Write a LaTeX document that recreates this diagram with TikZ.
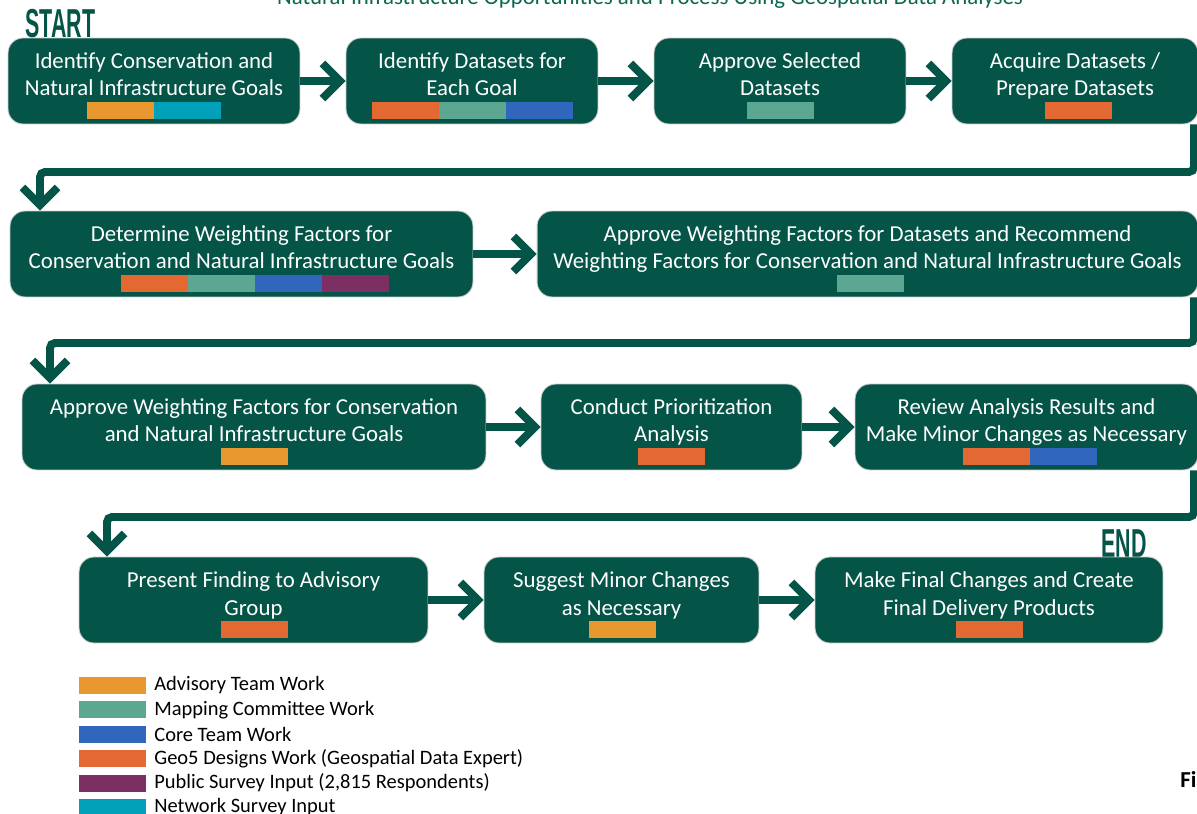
\documentclass[tikz,border=0pt]{standalone}
\usepackage{graphicx}
\usepackage{fontspec}
\setmainfont{Carlito}
\newfontfamily\headfont{Liberation Sans}
\usetikzlibrary{arrows.meta,calc}

\definecolor{boxgreen}{HTML}{045448}
\definecolor{titlegreen}{HTML}{0B6650}
\definecolor{advteam}{HTML}{E8982F}
\definecolor{mapping}{HTML}{5CA792}
\definecolor{coreteam}{HTML}{3166BD}
\definecolor{geo}{HTML}{E46832}
\definecolor{public}{HTML}{7C2F63}
\definecolor{network}{HTML}{00A0B8}

\tikzset{
  stepbox/.style={fill=boxgreen, draw=black!20, line width=0.5pt, rounded corners=0.3cm,
    minimum height=1.72cm, inner sep=0pt, text=white, align=center,
    font=\fontsize{13}{15.4}\selectfont, text height=0.8cm, text depth=0.2cm},
  flow/.style={draw=boxgreen, line width=4.5pt, -{Straight Barb[length=10pt,width=20pt]}},
  turn/.style={flow, rounded corners=0.1cm},
  tag/.style={font=\headfont\bfseries\fontsize{23}{23}\selectfont, text=boxgreen, inner sep=0pt},
  keytext/.style={font=\fontsize{11.65}{13}\selectfont, inner sep=0pt}
}

\newcommand\workbar[4]{%
  \foreach \c [count=\i] in {#4}
    \fill[\c] ($(#1.center)+({#2+(\i-1-#3/2)*67},21)$) rectangle ++(67,17);
}

\begin{document}
\begin{tikzpicture}[x=0.02cm, y=-0.02cm]
\useasboundingbox (0,0) rectangle (1197,814);

\node[font=\fontsize{13}{15}\selectfont, text=titlegreen, anchor=base] (title) at (650,5)
  {Natural Infrastructure Opportunities and Process Using Geospatial Data Analyses};
\node[tag, anchor=base west] (start) at (25,38) {\scalebox{0.53}[1]{START}};
\node[tag, anchor=base west] (end) at (1101,557) {\scalebox{0.53}[1]{END}};

\node[stepbox, minimum width=5.84cm] (s1) at (154,81) {Identify Conservation and\\Natural Infrastructure Goals};
\node[stepbox, minimum width=5.04cm] (s2) at (472,81) {Identify Datasets for\\Each Goal};
\node[stepbox, minimum width=5.04cm] (s3) at (780,81) {Approve Selected\\Datasets};
\node[stepbox, minimum width=4.92cm] (s4) at (1075,81) {Acquire Datasets /\\Prepare Datasets};

\node[stepbox, minimum width=9.26cm] (s5) at (241.5,254) {Determine Weighting Factors for\\Conservation and Natural Infrastructure Goals};
\node[stepbox, minimum width=13.22cm] (s6) at (867.5,254) {Approve Weighting Factors for Datasets and Recommend\\Weighting Factors for Conservation and Natural Infrastructure Goals};

\node[stepbox, minimum width=9.28cm] (s7) at (254,427) {Approve Weighting Factors for Conservation\\and Natural Infrastructure Goals};
\node[stepbox, minimum width=5.22cm] (s8) at (671.5,427) {Conduct Prioritization\\Analysis};
\node[stepbox, minimum width=6.86cm] (s9) at (1026.5,427) {Review Analysis Results and\\Make Minor Changes as Necessary};

\node[stepbox, minimum width=6.98cm] (s10) at (253.5,600) {Present Finding to Advisory\\Group};
\node[stepbox, minimum width=5.5cm] (s11) at (621.5,600) {Suggest Minor Changes\\as Necessary};
\node[stepbox, minimum width=6.96cm] (s12) at (989,600) {Make Final Changes and Create\\Final Delivery Products};

\workbar{s1}{0}{2}{advteam,network}
\workbar{s2}{0}{3}{geo,mapping,coreteam}
\workbar{s3}{0}{1}{mapping}
\workbar{s4}{3}{1}{geo}
\workbar{s5}{13}{4}{geo,mapping,coreteam,public}
\workbar{s6}{3}{1}{mapping}
\workbar{s7}{0}{1}{advteam}
\workbar{s8}{0}{1}{geo}
\workbar{s9}{3}{2}{geo,coreteam}
\workbar{s10}{1}{1}{geo}
\workbar{s11}{1}{1}{advteam}
\workbar{s12}{0}{1}{geo}

\draw[flow] (s1) -- (s2);
\draw[flow] (s2) -- (s3);
\draw[flow] (s3) -- (s4);
\draw[flow] (s5) -- (s6);
\draw[flow] (s7) -- (s8);
\draw[flow] (s8) -- (s9);
\draw[flow] (s10) -- (s11);
\draw[flow] (s11) -- (s12);

\coordinate (r1) at (1194,172);
\coordinate (l1) at (40,172);
\coordinate (r2) at (1194,343);
\coordinate (l2) at (50,343);
\coordinate (r3) at (1194,517);
\coordinate (l3) at (107,517);
\draw[turn] (s4.south -| r1) |- (l1) -- (s5.north -| l1);
\draw[turn] (s6.south -| r2) |- (l2) -- (s7.north -| l2);
\draw[turn] (s9.south -| r3) |- (l3) -- (s10.north -| l3);

\foreach \c/\t [count=\i] in {advteam/Advisory Team Work, mapping/Mapping Committee Work,
    coreteam/Core Team Work, geo/Geo5 Designs Work (Geospatial Data Expert),
    public/{Public Survey Input (2,815 Respondents)}, network/Network Survey Input} {
  \fill[\c] (79,{677+(\i-1)*24.4}) rectangle ++(67,17);
  \node[keytext, anchor=west] (key\i) at (154,{685.5+(\i-1)*24.4}) {\t};
}

\node[font=\bfseries\fontsize{13}{15}\selectfont, anchor=base west, inner sep=0pt] (fig) at (1180,787) {Fi};
\end{tikzpicture}
\end{document}
